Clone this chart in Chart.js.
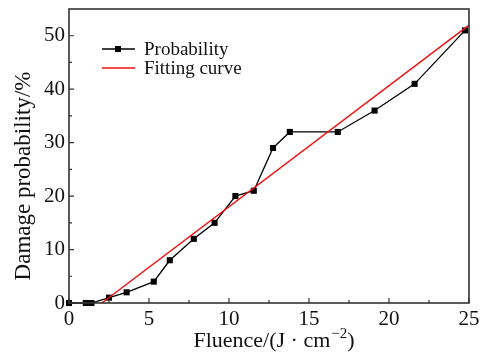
<!DOCTYPE html>
<html><head><meta charset="utf-8">
<script src="https://cdn.jsdelivr.net/npm/chart.js@4"></script>
<style>html,body{margin:0;padding:0;background:#fff}#wrap{width:492px;height:352px}</style>
</head><body><div id="wrap"><canvas id="c" width="492" height="352"></canvas></div>
<script>
const fluence = [0, 1.05, 1.4, 2.5, 3.6, 5.3, 6.3, 7.8, 9.1, 10.4, 11.55, 12.75, 13.8, 16.8, 19.1, 21.6, 24.75];
const probability = [0, 0, 0, 1, 2, 4, 8, 12, 15, 20, 21, 29, 32, 32, 36, 41, 51];
const fitX = [2.05, 25];
const fitY = [0, 52];
const xTicks = [0, 5, 10, 15, 20, 25];
const yTicks = [0, 10, 20, 30, 40, 50];
const xMinor = [2.5, 7.5, 12.5, 17.5, 22.5];
const yMinor = [5, 15, 25, 35, 45];
const legendLabels = ['Probability', 'Fitting curve'];
const xTitle = 'Fluence/(J · cm';
const xTitleSup = '−2';
const yTitle = 'Damage probability/%';

const SERIF = '"Liberation Serif", "Times New Roman", serif';
const AXIS = '#333';

const decor = {
  id: 'decor',
  afterDatasetsDraw(chart) {
    const ctx = chart.ctx, a = chart.chartArea;
    const xs = chart.scales.x, ys = chart.scales.y;
    ctx.save();
    ctx.strokeStyle = AXIS; ctx.lineWidth = 1.6;
    ctx.strokeRect(a.left, a.top, a.right - a.left, a.bottom - a.top);
    ctx.lineWidth = 1.2;
    ctx.beginPath();
    xTicks.forEach(v => { const p = xs.getPixelForValue(v); ctx.moveTo(p, a.bottom); ctx.lineTo(p, a.bottom - 5); });
    xMinor.forEach(v => { const p = xs.getPixelForValue(v); ctx.moveTo(p, a.bottom); ctx.lineTo(p, a.bottom - 3); });
    yTicks.forEach(v => { const p = ys.getPixelForValue(v); ctx.moveTo(a.left, p); ctx.lineTo(a.left + 5, p); });
    yMinor.forEach(v => { const p = ys.getPixelForValue(v); ctx.moveTo(a.left, p); ctx.lineTo(a.left + 3, p); });
    ctx.stroke();
    const ds = chart.data.datasets;
    const rows = [49, 68];
    ctx.textBaseline = 'middle'; ctx.textAlign = 'left';
    ctx.font = '19px ' + SERIF; ctx.fillStyle = '#111';
    legendLabels.forEach((lab, i) => {
      const d = ds.find(q => q.label === lab);
      const y = rows[i];
      ctx.strokeStyle = d.borderColor; ctx.lineWidth = d.borderWidth;
      ctx.beginPath(); ctx.moveTo(102, y); ctx.lineTo(135, y); ctx.stroke();
      if (d.pointRadius > 0) {
        ctx.fillStyle = d.pointBackgroundColor;
        ctx.fillRect(115, y - 3, 6, 6);
      }
      ctx.fillStyle = '#111';
      ctx.fillText(lab, 144, y + 1);
    });
    ctx.font = '22px ' + SERIF; ctx.textBaseline = 'alphabetic';
    const w1 = ctx.measureText(xTitle).width;
    ctx.font = '15px ' + SERIF;
    const w2 = ctx.measureText(xTitleSup).width;
    ctx.font = '22px ' + SERIF;
    const w3 = ctx.measureText(')').width;
    let x0 = 274 - (w1 + w2 + w3 + 1) / 2;
    ctx.fillText(xTitle, x0, 347);
    ctx.font = '15px ' + SERIF;
    ctx.fillText(xTitleSup, x0 + w1 + 1, 338);
    ctx.font = '22px ' + SERIF;
    ctx.fillText(')', x0 + w1 + w2 + 1, 347);
    ctx.save();
    ctx.translate(30, 176); ctx.rotate(-Math.PI / 2);
    ctx.textAlign = 'center'; ctx.textBaseline = 'alphabetic';
    ctx.font = '23px ' + SERIF;
    ctx.fillText(yTitle, 0, 0);
    ctx.restore();
    ctx.restore();
  }
};

new Chart(document.getElementById('c'), {
  type: 'line',
  data: {
    datasets: [
      {
        label: 'Fitting curve',
        data: fitX.map((x, i) => ({ x, y: fitY[i] })),
        borderColor: '#ee1111', borderWidth: 1.5, pointRadius: 0,
        clip: false, order: 0, tension: 0
      },
      {
        label: 'Probability',
        data: fluence.map((x, i) => ({ x, y: probability[i] })),
        borderColor: '#000', borderWidth: 1.3,
        pointStyle: 'rect', pointRadius: 4.3, pointBorderWidth: 0,
        pointBackgroundColor: '#000', pointBorderColor: '#000',
        clip: false, order: 1, tension: 0
      }
    ]
  },
  options: {
    responsive: false, animation: false, devicePixelRatio: 1,
    layout: { padding: { top: 9, right: 23, left: 0, bottom: 0 } },
    plugins: { legend: { display: false }, tooltip: { enabled: false } },
    scales: {
      x: {
        type: 'linear', min: 0, max: 25,
        afterFit(s) { s.height = 49; s.paddingLeft = 0; s.paddingRight = 0; },
        afterBuildTicks(s) { s.ticks = xTicks.map(v => ({ value: v })); },
        grid: { display: false, drawTicks: false },
        border: { display: false },
        ticks: { padding: 4, color: '#111', font: { family: SERIF, size: 21 } }
      },
      y: {
        type: 'linear', min: 0, max: 55,
        afterFit(s) { s.width = 69; s.paddingTop = 0; s.paddingBottom = 0; },
        afterBuildTicks(s) { s.ticks = yTicks.map(v => ({ value: v })); },
        grid: { display: false, drawTicks: false },
        border: { display: false },
        ticks: { padding: 4, color: '#111', font: { family: SERIF, size: 21 } }
      }
    }
  },
  plugins: [decor]
});
</script></body></html>
